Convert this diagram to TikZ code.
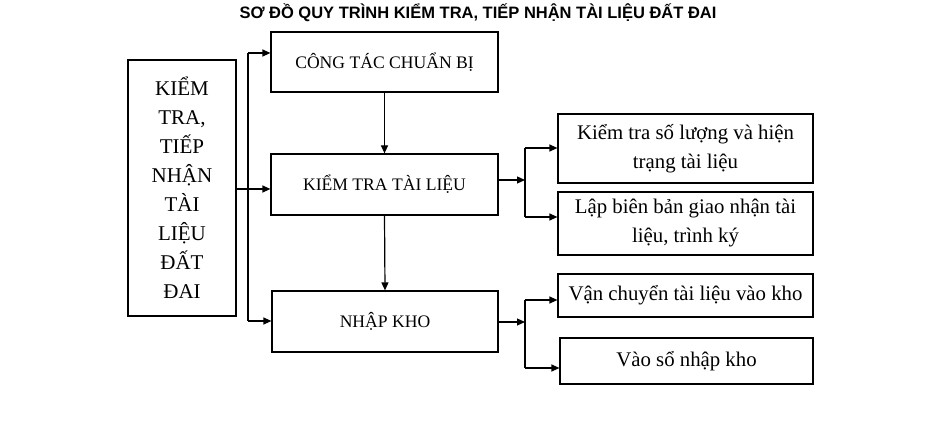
\documentclass[tikz,border=0pt]{standalone}
\usepackage{fontspec}
\setmainfont{Liberation Serif}
\newfontfamily\titlefont{Liberation Sans}
\usetikzlibrary{arrows.meta}
\begin{document}
\begin{tikzpicture}[x=1pt,y=-1pt,
  box/.style={draw, line width=1.2pt, inner sep=0pt, align=center},
  capsbox/.style={box, font=\fontsize{17.6}{20}\selectfont},
  smallbox/.style={box, font=\fontsize{20.8}{29}\selectfont},
  arr/.style={line width=1.2pt, -{Triangle[length=8pt,width=7pt]}},
  ln/.style={line width=1.2pt}]
\useasboundingbox (0,0) rectangle (937,427);
\node[font=\titlefont\bfseries\fontsize{16.5}{18}\selectfont] (title) at (478,13) {SƠ ĐỒ QUY TRÌNH KIỂM TRA, TIẾP NHẬN TÀI LIỆU ĐẤT ĐAI};

\node[box, minimum width=108pt, minimum height=256pt, font=\fontsize{21}{29}\selectfont] (L) at (182,188) {KIỂM\\TRA,\\TIẾP\\NHẬN\\TÀI\\LIỆU\\ĐẤT\\ĐAI};

\node[capsbox, minimum width=227pt, minimum height=60pt] (B1) at (384.5,62) {CÔNG TÁC CHUẨN BỊ};
\node[capsbox, minimum width=227pt, minimum height=61pt] (B2) at (384.5,184.5) {KIỂM TRA TÀI LIỆU};
\node[capsbox, minimum width=226pt, minimum height=61pt] (B3) at (385,321.5) {NHẬP KHO};

\node[smallbox, minimum width=255pt, minimum height=69pt] (R1) at (685.5,148.5) {Kiểm tra số lượng và hiện\\trạng tài liệu};
\node[smallbox, minimum width=255pt, minimum height=63pt] (R2) at (685.5,223.5) {Lập biên bản giao nhận tài\\liệu, trình ký};
\node[smallbox, minimum width=255pt, minimum height=43pt] (R3) at (685.5,295.5) {Vận chuyển tài liệu vào kho};
\node[smallbox, minimum width=253pt, minimum height=46pt] (R4) at (686.5,361) {Vào sổ nhập kho};

% left bus
\coordinate (bt) at (248,53);
\coordinate (bb) at (248,321);
\coordinate (la) at (237,189);
\draw[ln] (bt) -- (bb);
\draw[arr] (bt) -- (bt -| B1.west);
\draw[arr] (bb) -- (bb -| B3.west);
\draw[arr] (L.east |- la) -- (la -| B2.west);

% vertical flow
\draw[arr] (B1.south) -- (B2.north);
\draw[arr] (B2.south) -- (B3.north);

% right branch 1
\coordinate (j1) at (525,180);
\coordinate (j1t) at (525,148);
\coordinate (j1b) at (525,217);
\draw[arr] (B2.east |- j1) -- (j1);
\draw[ln] (j1t) -- (j1b);
\draw[arr] (j1t) -- (j1t -| R1.west);
\draw[arr] (j1b) -- (j1b -| R2.west);

% right branch 2
\coordinate (j2) at (525,322);
\coordinate (j2t) at (525,300);
\coordinate (j2b) at (525,368);
\draw[arr] (B3.east |- j2) -- (j2);
\draw[ln] (j2t) -- (j2b);
\draw[arr] (j2t) -- (j2t -| R3.west);
\draw[arr] (j2b) -- (j2b -| R4.west);
\end{tikzpicture}
\end{document}
